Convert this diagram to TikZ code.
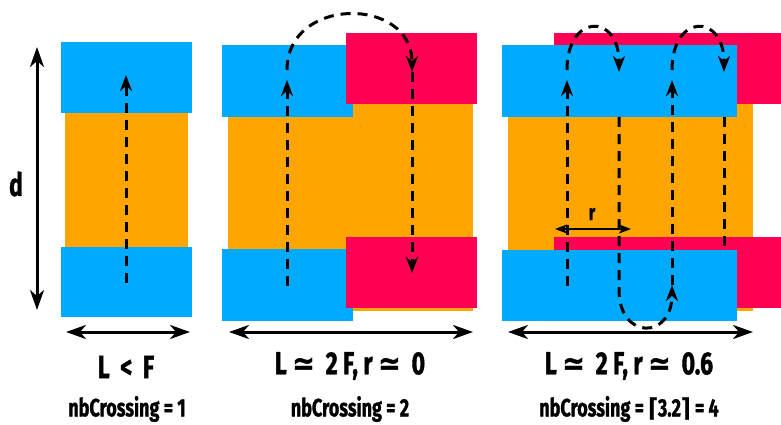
\documentclass[tikz,border=0pt]{standalone}
\usepackage{fontspec}
\setmainfont{Fira Sans}[FakeStretch=0.72, BoldFeatures={FakeBold=1.2}]
\newfontfamily\symf{DejaVu Sans}[FakeStretch=0.85, BoldFeatures={FakeBold=1}]
\usetikzlibrary{arrows.meta}
\definecolor{cblue}{HTML}{00AAFF}
\definecolor{corange}{HTML}{FFA500}
\definecolor{cred}{HTML}{FF0055}
\tikzset{
  flow/.style={line width=3pt, dash pattern=on 10pt off 7pt},
  flowtip/.style={-{Stealth[length=16pt,width=12pt,inset=5pt]}},
  dimarrow/.style={line width=3pt, {Stealth[length=20pt,width=14pt,inset=6pt]}-{Stealth[length=20pt,width=14pt,inset=6pt]}},
  rarrow/.style={line width=2pt, {Stealth[length=12pt,width=9pt,inset=3pt]}-{Stealth[length=12pt,width=9pt,inset=3pt]}},
  biglabel/.style={font=\fontsize{32}{34}\selectfont\bfseries, inner sep=0pt},
  smalllabel/.style={font=\fontsize{25}{27}\selectfont\bfseries, inner sep=0pt},
}
\begin{document}
\begin{tikzpicture}[x=1pt,y=-1pt]
\useasboundingbox (0,0) rectangle (781,425);

% ---------- left panel ----------
\fill[corange] (65,113) rectangle (188,247);
\fill[cblue] (61,42) rectangle (192,113);
\fill[cblue] (61,247) rectangle (192,317);
\coordinate (a1s) at (126,283);
\coordinate (a1e) at (126,75);
\draw[flow,flowtip] (a1s) -- (a1e);
\coordinate (dtop) at (37,47);
\coordinate (dbot) at (37,310);
\draw[dimarrow] (dtop) -- (dbot);
\node[biglabel] (dlab) at (16,184) {d};
\coordinate (w1l) at (66,332);
\coordinate (w1r) at (190,332);
\draw[dimarrow] (w1l) -- (w1r);
\node[biglabel] (lab1) at (126,367) {L\,\,<\,\,F};
\node[smalllabel] (nb1) at (127,409) {nbCrossing = 1};

% ---------- middle panel ----------
\fill[corange] (228,104) rectangle (473,311);
\fill[cblue] (222,45) rectangle (353,117);
\fill[cblue] (222,249) rectangle (353,321);
\fill[cred] (346,33) rectangle (477,104);
\fill[cred] (346,237) rectangle (477,308);
\coordinate (m1s) at (287,286);
\coordinate (m1e) at (287,80);
\coordinate (m2s) at (287,70);
\coordinate (m2e) at (412,72);
\coordinate (m3e) at (412,273);
\draw[flow,flowtip] (m1s) -- (m1e);
\draw[flow,flowtip] (m2s) .. controls (287,-4) and (412,-4) .. (m2e);
\draw[flow,flowtip] (m2e) -- (m3e);
\coordinate (w2l) at (229,332);
\coordinate (w2r) at (473,332);
\draw[dimarrow] (w2l) -- (w2r);
\node[biglabel] (lab2) at (350,366) {L {\symf ≃} \,2\,F, r {\symf ≃} \,0};
\node[smalllabel] (nb2) at (350,409) {nbCrossing = 2};

% ---------- right panel ----------
\fill[corange] (508,104) rectangle (753,311);
\fill[cred] (554,33) rectangle (781,104);
\fill[cred] (554,237) rectangle (781,308);
\fill[cblue] (502,45) rectangle (737,117);
\fill[cblue] (502,250) rectangle (737,321);
\coordinate (r1s) at (567,286);
\coordinate (r1e) at (567,80);
\coordinate (r2s) at (567,70);
\coordinate (r2e) at (619,72);
\coordinate (r3s) at (619,117);
\coordinate (r3m) at (619,290);
\coordinate (r3e) at (672,285);
\coordinate (r4e) at (672,80);
\coordinate (r5s) at (672,70);
\coordinate (r5e) at (724,72);
\coordinate (r6s) at (724,117);
\coordinate (r6e) at (724,247);
\draw[flow,flowtip] (r1s) -- (r1e);
\draw[flow,flowtip] (r2s) .. controls (567,13) and (619,13) .. (r2e);
\draw[flow,flowtip] (r3s) -- (r3m) .. controls (619,340) and (672,340) .. (r3e);
\draw[flow,flowtip] (r3e) -- (r4e);
\draw[flow,flowtip] (r5s) .. controls (672,13) and (724,13) .. (r5e);
\draw[flow] (r6s) -- (r6e);
\coordinate (rl) at (555,229);
\coordinate (rr) at (631,229);
\draw[rarrow] (rl) -- (rr);
\node[font=\fontsize{22}{24}\selectfont\bfseries, inner sep=0pt] (rlab) at (592,214) {r};
\coordinate (w3l) at (508,332);
\coordinate (w3r) at (753,332);
\draw[dimarrow] (w3l) -- (w3r);
\node[biglabel] (lab3) at (629,366) {L {\symf ≃} \,2\,F, r {\symf ≃} \,0.6};
\node[smalllabel] (nb3) at (629,409) {nbCrossing = {\symf ⌈}3.2{\symf ⌉} = 4};
\end{tikzpicture}
\end{document}
